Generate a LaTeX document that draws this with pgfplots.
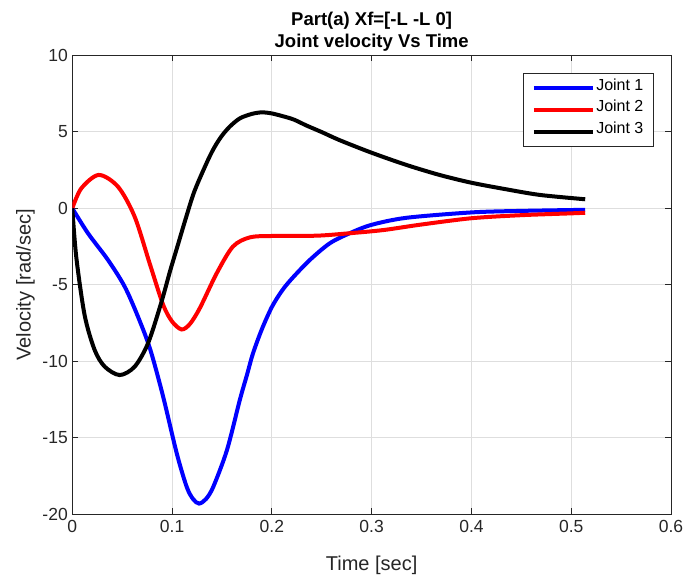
\documentclass[border=0pt]{standalone}
\usepackage{fontspec}
\setmainfont{Liberation Sans}
\usepackage{pgfplots}
\pgfplotsset{compat=1.18}
\definecolor{axgray}{rgb}{0.15,0.15,0.15}
\definecolor{gridgray}{rgb}{0.87,0.87,0.87}
\begin{document}
\begin{tikzpicture}
\path[use as bounding box] (-72.3pt,-62.7pt) rectangle (613.7pt,514.3pt);
\begin{axis}[
  at={(0pt,0pt)}, anchor=south west,
  width=598.7pt, height=459pt, scale only axis,
  xmin=0, xmax=0.6, ymin=-20, ymax=10,
  xtick={0,0.1,0.2,0.3,0.4,0.5,0.6},
  xticklabels={0,0.1,0.2,0.3,0.4,0.5,0.6},
  ytick={-20,-15,-10,-5,0,5,10},
  yticklabels={-20,-15,-10,-5,0,5,10},
  tick align=inside, major tick length=6pt,
  tick style={axgray, line width=0.8pt},
  axis line style={axgray, line width=0.8pt},
  ticklabel style={font=\fontsize{17.5}{20}\selectfont, text=axgray},
  xticklabel style={yshift=-2pt},
  yticklabel style={xshift=-1pt},
  grid=major, major grid style={gridgray, line width=0.8pt},
  xlabel={Time [sec]}, ylabel={Velocity [rad/sec]},
  xlabel style={at={(axis description cs:0.5,-0.1233)}, anchor=base, font=\fontsize{20}{24}\selectfont, text=axgray},
  ylabel style={at={(axis description cs:-0.0695,0.5)}, anchor=base, font=\fontsize{20}{24}\selectfont, text=axgray},
  title={Part(a) Xf=[-L -L 0]\\Joint velocity Vs Time},
  title style={at={(axis description cs:0.5,1)}, anchor=south, yshift=-6pt, align=center, font=\bfseries\fontsize{18.5}{22.5}\selectfont},
  legend style={at={(axis description cs:1,1)}, xshift=-17.7pt, yshift=-18pt, anchor=north east,
     draw=axgray, line width=0.8pt, font=\fontsize{16}{19}\selectfont,
     inner xsep=8pt, inner ysep=3.6pt, row sep=0pt,
     nodes={inner ysep=0pt, inner xsep=1.5pt, text height=13pt, text depth=8.7pt}},
  legend cell align=left,
  legend image code/.code={\draw[#1, line width=4pt] (0pt,0pt) -- (59pt,0pt);},
  every axis plot/.append style={line width=4pt},
]
\addplot[blue, smooth, tension=0.5] coordinates {
(0,0) (0.0157,-1.63) (0.0358,-3.38) (0.0525,-5.12) (0.0658,-7.08) (0.078,-9.2)
(0.091,-12.3) (0.1046,-16.0) (0.1146,-18.2) (0.121,-19.0) (0.127,-19.3)
(0.134,-19.0) (0.1413,-18.2) (0.155,-15.8) (0.168,-12.5) (0.175,-10.9) (0.181,-9.5)
(0.19,-7.9) (0.2,-6.45) (0.21,-5.4) (0.22,-4.6) (0.238,-3.38) (0.258,-2.29)
(0.278,-1.63) (0.3,-1.08) (0.335,-0.62) (0.4,-0.27) (0.45,-0.17) (0.514,-0.1)
};
\addlegendentry{Joint 1}
\addplot[red, smooth, tension=0.5] coordinates {
(0,0) (0.009,1.3) (0.0265,2.18) (0.0458,1.41) (0.0625,-0.55) (0.078,-3.7)
(0.091,-6.3) (0.1,-7.4) (0.1096,-7.92) (0.118,-7.55) (0.128,-6.5) (0.1447,-4.25)
(0.161,-2.5) (0.178,-1.9) (0.2,-1.81) (0.245,-1.79) (0.278,-1.63) (0.312,-1.42)
(0.35,-1.06) (0.4,-0.65) (0.45,-0.45) (0.5,-0.33) (0.514,-0.29)
};
\addlegendentry{Joint 2}
\addplot[black, smooth, tension=0.5] coordinates {
(0,0) (0.004,-3.2) (0.0124,-7.0) (0.0224,-9.26) (0.0325,-10.35) (0.0475,-10.9)
(0.0625,-10.35) (0.0759,-8.82) (0.089,-6.2) (0.098,-4.1) (0.106,-2.35)
(0.114,-0.6) (0.1226,1.15) (0.136,3.16) (0.143,4.05) (0.15,4.75) (0.158,5.35)
(0.168,5.88) (0.18,6.17) (0.19,6.27) (0.2,6.2) (0.212,6.0) (0.222,5.8)
(0.235,5.4) (0.25,4.98) (0.268,4.45) (0.3,3.63) (0.335,2.83) (0.368,2.18)
(0.4,1.67) (0.435,1.24) (0.469,0.87) (0.514,0.59)
};
\addlegendentry{Joint 3}
\end{axis}
\end{tikzpicture}
\end{document}
